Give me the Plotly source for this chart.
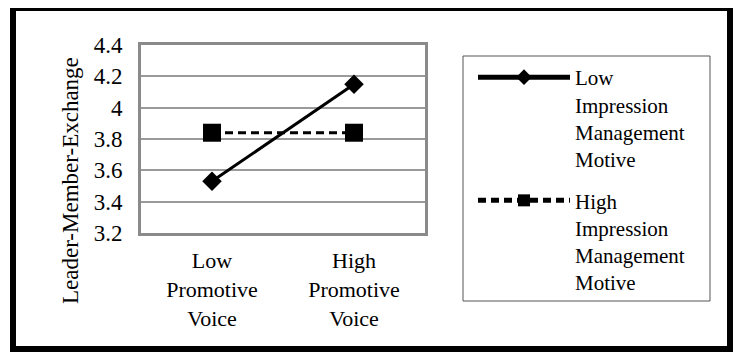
import plotly.graph_objects as go

categories = ["Low<br>Promotive<br>Voice", "High<br>Promotive<br>Voice"]
low_im = [3.53, 4.15]
high_im = [3.84, 3.84]
series_names = ["Low<br>Impression<br>Management<br>Motive", "High<br>Impression<br>Management<br>Motive"]
y_ticks = [3.2, 3.4, 3.6, 3.8, 4.0, 4.2, 4.4]
y_tick_labels = ["3.2", "3.4", "3.6", "3.8", "4", "4.2", "4.4"]
y_title = "Leader-Member-Exchange"

FONT = "Liberation Serif, Times New Roman, serif"
OFF = 8  # default page body margin
W, H = 744 - OFF, 360 - OFF
# plot area in page pixels
PL, PR, PT, PB = 141, 425, 45, 233
L, T = PL - OFF, PT - OFF
R, B = W - (PR - OFF), H - (PB - OFF)
pw, ph = PR - PL, PB - PT

def px(x):
    return (x - PL) / pw

def py(y):
    return (PB - y) / ph

fig = go.Figure()
fig.add_trace(go.Scatter(
    x=[0, 1], y=low_im, name=series_names[0], mode="lines+markers",
    line=dict(color="black", width=3),
    marker=dict(symbol="diamond", size=15, color="black"),
    legendgroup="a",
))
fig.add_trace(go.Scatter(
    x=[0, 1], y=high_im, name=series_names[1], mode="lines+markers",
    line=dict(color="black", width=3, dash="8px,5px"),
    marker=dict(symbol="square", size=18, color="black"),
    legendgroup="b",
))

fig.update_layout(
    width=W, height=H,
    margin=dict(l=L, r=R, t=T, b=B, pad=0),
    paper_bgcolor="white", plot_bgcolor="white",
    font=dict(family=FONT, size=22, color="black"),
    showlegend=True,
    legend=dict(
        x=px(473), y=py(57), xanchor="left", yanchor="top",
        valign="top", itemwidth=92, tracegroupgap=11, itemsizing="constant",
        font=dict(family=FONT, size=21, color="black"),
        bgcolor="rgba(0,0,0,0)", borderwidth=0, maxheight=320,
    ),
    xaxis=dict(
        range=[-0.5, 1.5], tickmode="array", tickvals=[0, 1], ticktext=categories,
        showgrid=False, zeroline=False, showline=True, mirror=True,
        linecolor="#8a8a8a", linewidth=3, ticks="", ticklabelstandoff=6,
        tickfont=dict(family=FONT, size=22, color="black"),
        fixedrange=True,
    ),
    yaxis=dict(
        range=[3.2, 4.4], tickmode="array", tickvals=y_ticks, ticktext=y_tick_labels,
        showgrid=True, gridcolor="#9a9a9a", gridwidth=2, zeroline=False,
        showline=True, mirror=True, linecolor="#8a8a8a", linewidth=3,
        ticks="", ticklabelstandoff=11, fixedrange=True,
        tickfont=dict(family=FONT, size=23, color="black"),
    ),
    annotations=[dict(
        text=y_title, xref="paper", yref="paper", x=px(70), y=py(181),
        showarrow=False, textangle=-90, font=dict(family=FONT, size=23, color="black"),
        xanchor="center", yanchor="middle",
    )],
    shapes=[
        dict(type="rect", xref="paper", yref="paper",
             x0=px(13), x1=px(730), y0=py(349), y1=py(8),
             line=dict(color="black", width=6), layer="above"),
        dict(type="rect", xref="paper", yref="paper",
             x0=px(463), x1=px(710), y0=py(301), y1=py(56),
             line=dict(color="#555555", width=1), layer="above"),
    ],
)

fig.write_html("out.html")
